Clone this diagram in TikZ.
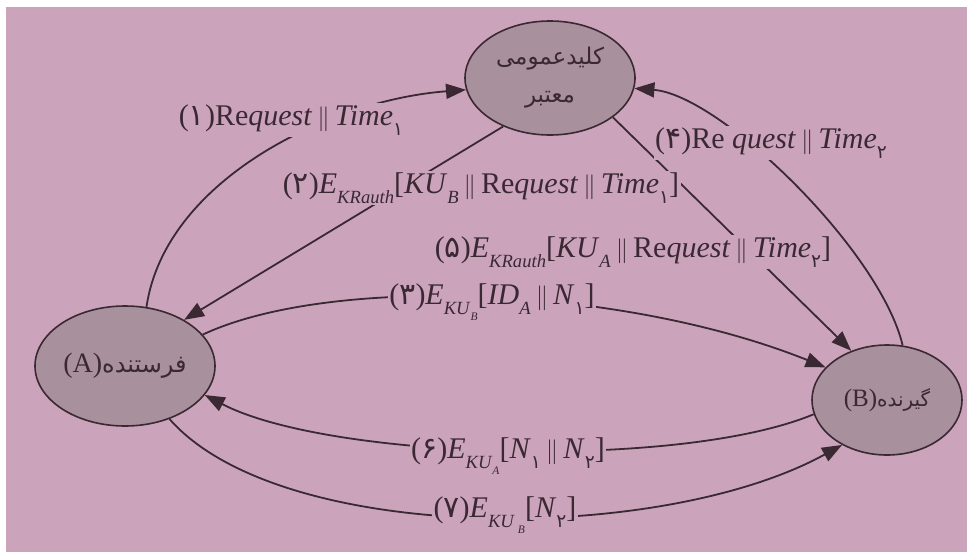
\documentclass[tikz,border=0pt]{standalone}
\usepackage{fontspec}
\setmainfont{Liberation Serif}
\newfontfamily\arabicfont[Script=Arabic]{DejaVu Sans}
\TeXXeTstate=1
\usetikzlibrary{arrows.meta,shapes.geometric}
\definecolor{pagebg}{HTML}{CBA4BC}
\definecolor{ellfill}{HTML}{A8909C}
\definecolor{ink}{HTML}{3A2833}
\newcommand{\fa}[1]{{\arabicfont #1}}
\newcommand{\lsub}[1]{\raisebox{-0.32em}{\scalebox{0.62}{#1}}}
\newcommand{\dbar}{\,$\|$\,}
\begin{document}
\begin{tikzpicture}[x=1pt,y=-1pt,
  ell/.style={ellipse, draw=ink, line width=1.6pt, fill=ellfill, inner sep=0pt, text=ink},
  conn/.style={draw=ink, line width=1.8pt, -{Triangle[length=20pt,width=15pt]}},
  lbl/.style={fill=pagebg, inner sep=1.5pt, text=ink, font=\fontsize{30}{33}\selectfont}]
\useasboundingbox (0,0) rectangle (967,552);
\fill[white] (0,0) rectangle (967,552);
\fill[pagebg] (6,7) rectangle (967,552);
% nodes
\node[ell, minimum width=170pt, minimum height=114pt, align=center, font=\arabicfont\fontsize{23}{38}\selectfont] (K) at (550,78)
  {\beginR کلیدعمومی\endR\\\beginR معتبر\endR};
\node[ell, minimum width=180pt, minimum height=120pt] (A) at (125,366)
  {{\fontsize{28}{30}\selectfont (A)}{\arabicfont\fontsize{24}{26}\selectfont\beginR فرستنده\endR}};
\node[ell, minimum width=150pt, minimum height=110pt] (B) at (887,400)
  {{\fontsize{25}{28}\selectfont (B)}{\arabicfont\fontsize{20}{22}\selectfont\beginR گیرنده\endR}};
% connectors
\draw[conn] (A.70) .. controls (165,180) and (330,100) .. (K.188);
\draw[conn] (K.226) -- (A.38);
\draw[conn] (A.22) .. controls (330,275) and (620,285) .. (B.152);
\draw[conn] (B.74) .. controls (880,250) and (720,95) .. (K.-7);
\draw[conn] (K.-32) -- (B.126);
\draw[conn] (B.191) .. controls (680,470) and (330,460) .. (A.-20);
\draw[conn] (A.-50) .. controls (280,545) and (660,545) .. (B.225);
% labels
\node[lbl] (l1) at (291,120) {(\fa{۱})Re\textit{quest}\dbar\textit{Time}\lsub{\fa{۱}}};
\node[lbl] (l2) at (481,188) {(\fa{۲})\textit{E}\lsub{\textit{KRauth}}[\textit{KU}\lsub{\textit{B}}\dbar Re\textit{quest}\dbar\textit{Time}\lsub{\fa{۱}}]};
\node[lbl] (l3) at (492,302) {(\fa{۳})\textit{E}\lsub{\textit{KU}\lsub{\textit{B}}}[\textit{ID}\lsub{\textit{A}}\dbar\textit{N}\lsub{\fa{۱}}]};
\node[lbl] (l4) at (771,143) {(\fa{۴})Re \textit{quest}\dbar\textit{Time}\lsub{\fa{۲}}};
\node[lbl] (l5) at (633,252) {(\fa{۵})\textit{E}\lsub{\textit{KRauth}}[\textit{KU}\lsub{\textit{A}}\dbar Re\textit{quest}\dbar\textit{Time}\lsub{\fa{۲}}]};
\node[lbl] (l6) at (508,456) {(\fa{۶})\textit{E}\lsub{\textit{KU}\lsub{\textit{A}}}[\textit{N}\lsub{\fa{۱}}\dbar\textit{N}\lsub{\fa{۲}}]};
\node[lbl] (l7) at (505,515) {(\fa{۷})\textit{E}\lsub{\textit{KU}\,\lsub{\textit{B}}}[\textit{N}\lsub{\fa{۲}}]};
\end{tikzpicture}
\end{document}
